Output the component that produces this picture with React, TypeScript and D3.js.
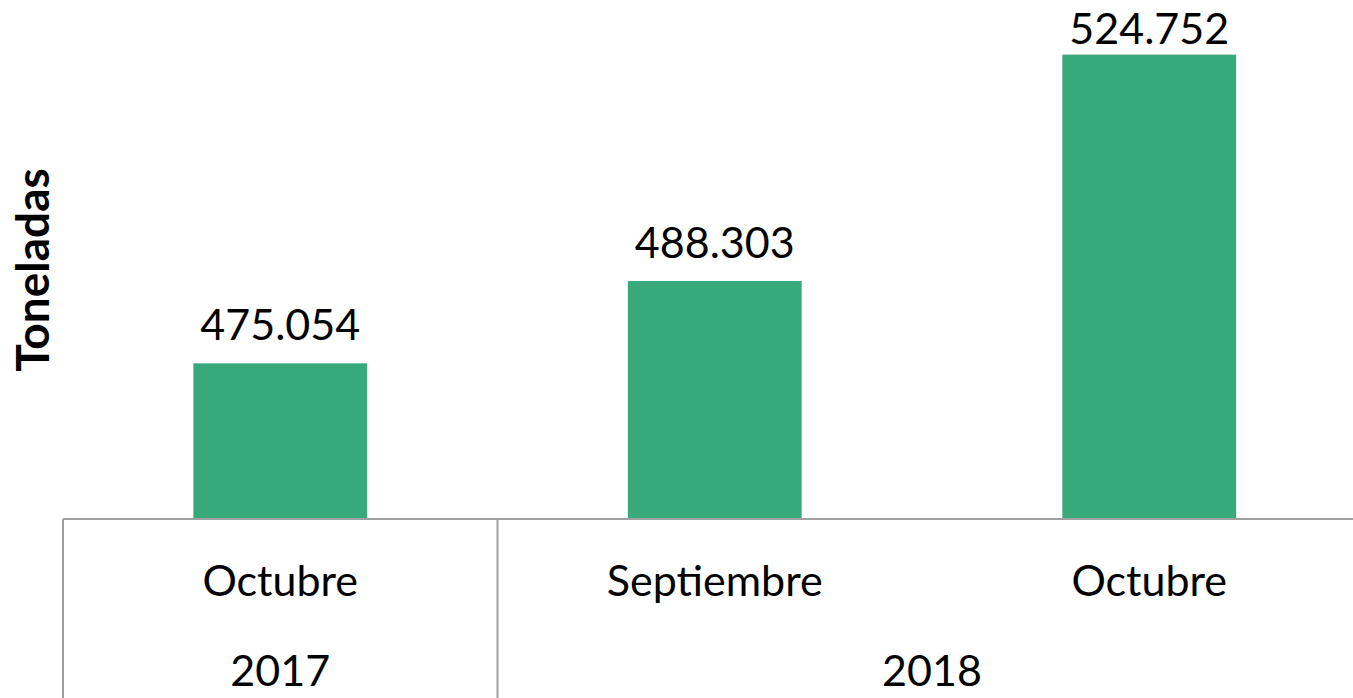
import React, { useEffect, useRef } from 'react';
import * as d3 from 'd3';

const months = ['Octubre', 'Septiembre', 'Octubre'];
const years = ['2017', '2018', '2018'];
const values = [475.054, 488.303, 524.752];
const yDomain = [450, 530];

const App = () => {
    const svgRef = useRef<SVGSVGElement>(null);
    const width = 1353;
    const height = 698;
    const left = 63;
    const right = 1366.5;
    const top = 22;
    const bottom = 519;
    const font = 'Lato, "Open Sans", sans-serif';
    const fs = 43;

    useEffect(() => {
        const svg = d3.select(svgRef.current);
        svg.selectAll('*').remove();

        const idx = d3.range(values.length);
        const x = d3.scaleBand<number>().domain(idx).range([left, right])
            .paddingInner(0.6).paddingOuter(0.3);
        const y = d3.scaleLinear().domain(yDomain).range([bottom, top]);
        const step = x.step();
        const fmt = d3.format('.3f');

        // bars
        svg.append('g')
            .selectAll('rect')
            .data(idx)
            .join('rect')
            .attr('x', i => x(i)!)
            .attr('y', i => y(values[i]))
            .attr('width', x.bandwidth())
            .attr('height', i => bottom - y(values[i]))
            .attr('fill', '#37a97b');

        // value labels (top one is kept inside the chart area)
        svg.append('g')
            .selectAll('text')
            .data(idx)
            .join('text')
            .attr('x', i => x(i)! + x.bandwidth() / 2)
            .attr('y', i => Math.max(y(values[i]) - 23, 44))
            .attr('text-anchor', 'middle')
            .attr('font-family', font)
            .attr('font-size', fs)
            .attr('fill', '#000')
            .text(i => fmt(values[i]));

        // axis line
        const axis = svg.append('g').attr('stroke', '#a0a0a0').attr('stroke-width', 2);
        axis.append('line')
            .attr('x1', left).attr('x2', width)
            .attr('y1', bottom).attr('y2', bottom);

        // month labels
        svg.append('g')
            .selectAll('text')
            .data(idx)
            .join('text')
            .attr('x', i => x(i)! + x.bandwidth() / 2)
            .attr('y', 596)
            .attr('text-anchor', 'middle')
            .attr('font-family', font)
            .attr('font-size', fs)
            .text(i => months[i]);

        // year groups with separators
        const groups = d3.groups(idx, i => years[i]);
        groups.forEach(([yr, members]) => {
            const x0 = x(members[0])! - x.paddingOuter() * step;
            const x1 = x(members[members.length - 1])! + x.bandwidth() + x.paddingOuter() * step;
            axis.append('line')
                .attr('x1', x0).attr('x2', x0)
                .attr('y1', bottom).attr('y2', height);
            svg.append('text')
                .attr('x', (x0 + x1) / 2)
                .attr('y', 686)
                .attr('text-anchor', 'middle')
                .attr('font-family', font)
                .attr('font-size', fs)
                .text(yr);
        });

        // y title
        svg.append('text')
            .attr('transform', 'translate(49, 270) rotate(-90)')
            .attr('text-anchor', 'middle')
            .attr('font-family', font)
            .attr('font-size', 46)
            .attr('font-weight', 'bold')
            .text('Toneladas');
    }, []);

    return (
        <svg ref={svgRef} width={width} height={height}
            style={{ position: 'absolute', left: 0, top: 0, background: '#fff' }} />
    );
};

export default App;
